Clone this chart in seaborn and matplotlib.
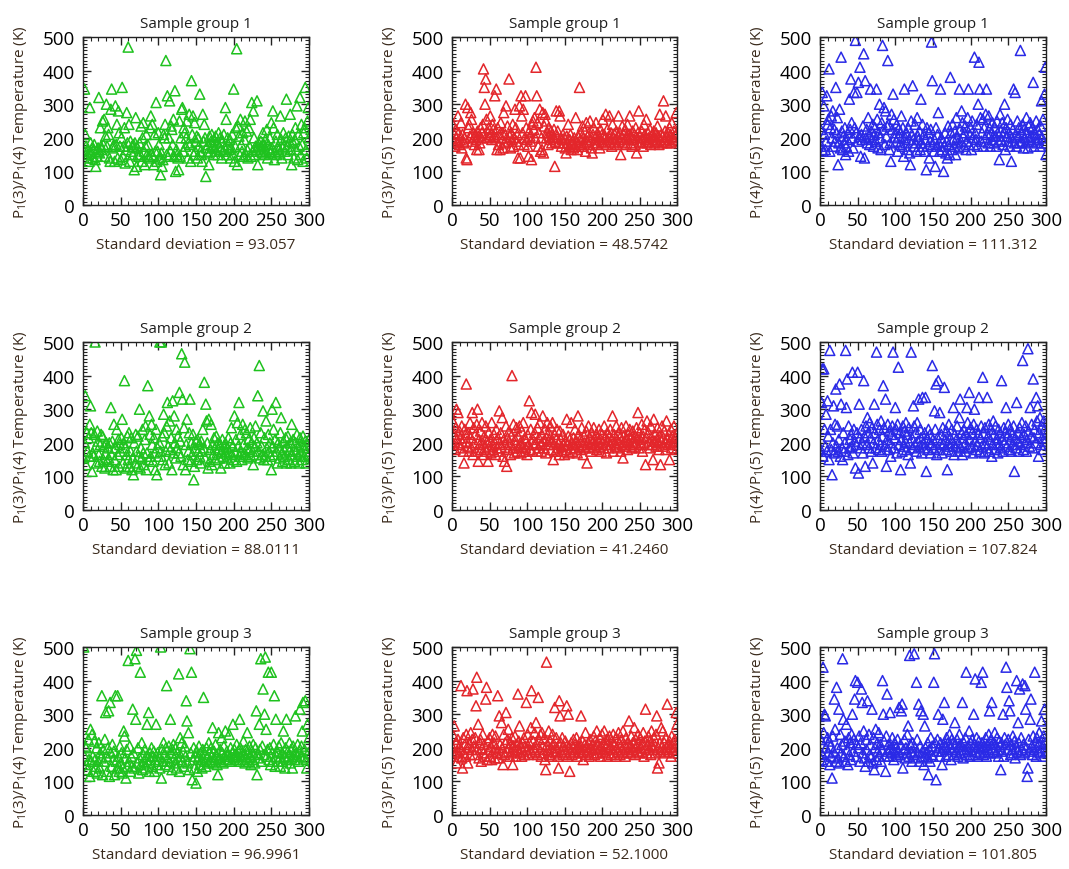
import numpy as np
import pandas as pd
import matplotlib
matplotlib.use("Agg")
import matplotlib.pyplot as plt
import seaborn as sns
from matplotlib.ticker import MultipleLocator

# ---------------- data ----------------
titles = ["Sample group 1", "Sample group 2", "Sample group 3"]
ylabels = [r"P$_1$(3)/P$_1$(4) Temperature (K)",
           r"P$_1$(3)/P$_1$(5) Temperature (K)",
           r"P$_1$(4)/P$_1$(5) Temperature (K)"]
std_texts = [["93.057", "48.5742", "111.312"],
             ["88.0111", "41.2460", "107.824"],
             ["96.9961", "52.1000", "101.805"]]

g1_34 = [160, 345, 210, 175, 140, 150, 165, 130, 290, 185,
         155, 170, 140, 165, 180, 135, 115, 160, 145, 170,
         320, 155, 230, 175, 165, 250, 180, 255, 145, 205,
         300, 175, 230, 210, 140, 130, 285, 345, 170, 175,
         180, 130, 295, 180, 240, 140, 280, 215, 175, 135,
         200, 350, 145, 175, 230, 125, 165, 275, 185, 470,
         240, 130, 190, 160, 175, 150, 180, 105, 185, 260,
         115, 170, 150, 145, 185, 150, 235, 130, 200, 245,
         160, 120, 175, 210, 150, 180, 145, 140, 230, 265,
         150, 240, 145, 120, 210, 160, 305, 130, 160, 215,
         180, 140, 90, 155, 115, 135, 210, 200, 240, 430,
         150, 325, 145, 200, 310, 160, 235, 225, 180, 255,
         145, 340, 100, 165, 150, 140, 105, 250, 145, 200,
         285, 290, 160, 230, 215, 175, 200, 250, 140, 185,
         270, 180, 130, 370, 210, 265, 150, 245, 160, 190,
         205, 140, 200, 175, 330, 160, 150, 130, 270, 190,
         240, 200, 85, 170, 155, 180, 120, 205, 160, 190,
         210, 175, 150, 195, 170, 205, 160, 185, 150, 215,
         175, 200, 165, 140, 190, 160, 210, 170, 290, 255,
         150, 200, 180, 165, 195, 140, 170, 210, 150, 345,
         130, 175, 230, 465, 120, 235, 205, 150, 255, 180,
         160, 215, 145, 195, 250, 150, 220, 165, 140, 230,
         175, 255, 145, 305, 160, 280, 200, 150, 175, 165,
         310, 120, 185, 170, 160, 190, 175, 155, 215, 180,
         150, 195, 160, 225, 140, 180, 165, 200, 155, 245,
         170, 280, 230, 135, 160, 190, 150, 210, 175, 165,
         155, 265, 195, 140, 170, 215, 180, 160, 200, 315,
         175, 150, 205, 190, 270, 165, 120, 210, 185, 140,
         195, 230, 165, 295, 135, 210, 175, 320, 150, 240,
         180, 130, 215, 230, 350, 165, 140, 250, 290, 200]

g1_35 = [240, 190, 210, 175, 225, 200, 185, 265, 215, 180,
         195, 245, 170, 210, 190, 185, 200, 300, 140, 135,
         290, 230, 240, 205, 275, 255, 190, 215, 200, 180,
         210, 195, 165, 220, 205, 165, 185, 230, 200, 215,
         240, 405, 350, 300, 375, 255, 200, 215, 230, 205,
         265, 210, 195, 240, 225, 205, 325, 200, 345, 165,
         230, 180, 210, 165, 245, 200, 215, 170, 275, 185,
         210, 295, 200, 235, 190, 375, 205, 170, 215, 195,
         240, 175, 200, 285, 230, 190, 210, 140, 180, 295,
         140, 325, 265, 215, 285, 180, 200, 325, 230, 195,
         175, 145, 220, 205, 190, 135, 240, 250, 225, 260,
         200, 410, 325, 245, 175, 215, 285, 160, 200, 165,
         275, 155, 235, 270, 250, 200, 215, 180, 230, 205,
         195, 220, 185, 210, 200, 225, 115, 190, 280, 205,
         220, 185, 280, 265, 200, 175, 195, 210, 185, 200,
         170, 155, 205, 185, 240, 175, 195, 210, 165, 180,
         190, 170, 200, 175, 260, 185, 165, 205, 180, 350,
         195, 215, 175, 235, 200, 185, 220, 160, 245, 190,
         205, 180, 215, 250, 195, 170, 155, 210, 230, 185,
         200, 245, 180, 215, 195, 205, 170, 225, 190, 210,
         255, 185, 210, 200, 270, 180, 225, 195, 205, 265,
         190, 215, 175, 240, 200, 185, 210, 195, 220, 180,
         205, 265, 190, 215, 150, 200, 235, 185, 210, 195,
         225, 180, 205, 240, 195, 210, 265, 185, 200, 175,
         220, 195, 210, 180, 230, 155, 200, 215, 280, 190,
         205, 185, 220, 200, 175, 240, 210, 195, 255, 185,
         215, 200, 190, 225, 180, 205, 210, 195, 220, 185,
         200, 215, 190, 235, 205, 180, 270, 195, 210, 185,
         205, 310, 190, 220, 265, 200, 185, 215, 195, 230,
         210, 185, 245, 200, 195, 220, 190, 205, 275, 215]

g1_45 = [225, 175, 335, 160, 295, 210, 165, 190, 325, 240,
         255, 405, 160, 230, 265, 200, 280, 175, 225, 190,
         350, 215, 260, 120, 185, 285, 170, 440, 220, 165,
         205, 185, 230, 150, 175, 195, 215, 160, 315, 225,
         375, 245, 200, 170, 335, 230, 490, 215, 335, 190,
         365, 205, 410, 145, 210, 195, 235, 450, 140, 370,
         200, 225, 185, 260, 205, 180, 345, 220, 195, 240,
         175, 210, 230, 190, 345, 255, 170, 215, 300, 200,
         165, 245, 475, 225, 290, 180, 280, 205, 235, 430,
         240, 165, 185, 130, 270, 225, 330, 255, 200, 215,
         190, 240, 160, 225, 205, 180, 215, 265, 175, 230,
         145, 345, 200, 185, 215, 165, 230, 195, 155, 120,
         250, 210, 355, 195, 175, 240, 185, 160, 260, 205,
         195, 220, 165, 315, 185, 240, 175, 210, 160, 195,
         105, 230, 175, 215, 140, 190, 225, 485, 370, 180,
         160, 195, 115, 230, 175, 210, 275, 185, 160, 345,
         200, 165, 190, 100, 175, 215, 155, 190, 140, 235,
         180, 150, 380, 215, 165, 240, 195, 175, 220, 150,
         260, 200, 185, 170, 345, 225, 190, 280, 245, 205,
         175, 215, 235, 165, 190, 260, 345, 180, 210, 230,
         165, 250, 200, 180, 440, 215, 195, 240, 175, 300,
         425, 345, 260, 190, 215, 255, 175, 230, 200, 270,
         345, 210, 185, 265, 230, 175, 215, 195, 245, 205,
         185, 230, 205, 175, 250, 215, 190, 135, 270, 220,
         195, 245, 180, 215, 300, 165, 230, 205, 255, 190,
         215, 175, 240, 130, 200, 225, 345, 185, 335, 210,
         175, 250, 205, 230, 185, 460, 215, 190, 240, 170,
         225, 200, 185, 260, 215, 170, 235, 195, 245, 205,
         190, 230, 365, 175, 215, 200, 250, 185, 225, 195,
         210, 175, 235, 310, 200, 255, 185, 330, 410, 150]

g2_34 = [155, 200, 340, 135, 230, 175, 215, 160, 255, 310,
         230, 115, 170, 160, 225, 500, 190, 140, 235, 205,
         165, 145, 195, 225, 130, 220, 150, 190, 125, 170,
         200, 145, 185, 155, 200, 130, 305, 165, 205, 120,
         255, 150, 185, 120, 240, 165, 210, 130, 195, 175,
         215, 270, 140, 200, 385, 185, 125, 165, 220, 150,
         230, 130, 175, 215, 120, 155, 105, 200, 140, 225,
         175, 130, 220, 160, 300, 125, 185, 155, 240, 170,
         135, 210, 250, 120, 170, 370, 150, 280, 225, 160,
         255, 195, 145, 215, 170, 120, 240, 105, 185, 160,
         200, 500, 175, 500, 220, 150, 285, 230, 135, 175,
         250, 320, 190, 140, 265, 180, 215, 120, 325, 170,
         280, 200, 155, 240, 185, 220, 170, 350, 205, 160,
         465, 330, 135, 245, 440, 120, 195, 270, 150, 175,
         230, 330, 145, 200, 165, 225, 90, 130, 185, 205,
         150, 210, 175, 195, 160, 140, 205, 175, 240, 185,
         380, 155, 315, 265, 200, 125, 270, 145, 180, 255,
         135, 195, 165, 215, 185, 150, 220, 170, 200, 180,
         155, 195, 125, 175, 210, 160, 190, 140, 200, 170,
         185, 155, 215, 175, 140, 200, 245, 165, 190, 150,
         280, 170, 210, 145, 260, 190, 320, 160, 225, 175,
         150, 255, 195, 170, 240, 165, 230, 185, 155, 210,
         180, 245, 160, 200, 175, 135, 215, 190, 250, 165,
         200, 340, 175, 430, 155, 230, 190, 165, 295, 150,
         215, 160, 265, 185, 150, 225, 175, 200, 160, 120,
         300, 190, 240, 165, 210, 320, 175, 140, 200, 185,
         155, 230, 275, 170, 145, 205, 180, 160, 215, 140,
         190, 220, 150, 175, 200, 140, 255, 165, 210, 180,
         145, 200, 175, 225, 160, 190, 140, 215, 170, 195,
         150, 220, 185, 160, 205, 140, 175, 195, 165, 210]

g2_35 = [200, 260, 225, 180, 245, 300, 210, 290, 195, 235,
         215, 185, 250, 200, 175, 140, 240, 225, 375, 205,
         190, 230, 175, 260, 215, 185, 290, 165, 245, 200,
         225, 175, 255, 300, 145, 210, 195, 235, 180, 260,
         200, 165, 220, 185, 250, 175, 205, 145, 230, 190,
         210, 170, 260, 195, 180, 225, 200, 165, 240, 185,
         215, 175, 295, 200, 230, 185, 275, 160, 210, 145,
         195, 250, 130, 215, 180, 235, 200, 165, 220, 400,
         185, 255, 170, 210, 195, 245, 175, 220, 185, 250,
         200, 170, 235, 190, 260, 175, 215, 185, 205, 165,
         225, 195, 325, 180, 240, 290, 175, 210, 195, 230,
         285, 200, 175, 245, 185, 215, 260, 195, 175, 225,
         280, 205, 185, 240, 170, 215, 260, 195, 230, 210,
         250, 180, 205, 260, 150, 195, 225, 175, 210, 240,
         185, 200, 165, 235, 210, 190, 175, 225, 195, 165,
         205, 180, 270, 195, 220, 170, 210, 185, 260, 200,
         175, 215, 195, 240, 185, 205, 170, 280, 225, 190,
         210, 180, 245, 195, 165, 220, 200, 185, 235, 140,
         205, 250, 190, 215, 175, 230, 200, 185, 245, 210,
         195, 225, 180, 215, 205, 240, 190, 210, 175, 225,
         200, 185, 250, 215, 195, 170, 230, 205, 185, 220,
         240, 195, 210, 280, 175, 225, 200, 190, 250, 210,
         185, 230, 200, 215, 175, 245, 195, 155, 220, 205,
         190, 250, 210, 180, 225, 200, 240, 195, 215, 185,
         235, 205, 190, 220, 200, 245, 215, 290, 185, 230,
         210, 195, 255, 175, 220, 200, 240, 135, 215, 265,
         195, 230, 205, 185, 250, 215, 195, 150, 270, 205,
         225, 190, 210, 245, 200, 180, 220, 135, 205, 250,
         190, 215, 235, 200, 180, 265, 210, 195, 225, 150,
         205, 240, 185, 220, 200, 250, 195, 215, 180, 230]

g2_45 = [180, 320, 420, 160, 420, 240, 190, 285, 175, 325,
         220, 150, 475, 240, 180, 105, 200, 310, 170, 255,
         360, 190, 250, 175, 210, 375, 160, 315, 185, 150,
         230, 175, 200, 475, 305, 390, 165, 250, 185, 210,
         225, 190, 410, 170, 240, 205, 125, 195, 230, 410,
         110, 315, 215, 185, 240, 200, 170, 385, 220, 130,
         250, 195, 275, 230, 185, 260, 215, 175, 245, 140,
         200, 315, 230, 185, 470, 255, 210, 180, 240, 195,
         265, 175, 220, 370, 245, 190, 330, 130, 210, 255,
         180, 235, 200, 160, 225, 250, 470, 185, 215, 305,
         240, 170, 255, 425, 195, 230, 120, 210, 175, 250,
         190, 235, 205, 260, 180, 225, 165, 245, 200, 140,
         470, 215, 185, 310, 250, 195, 230, 175, 260, 205,
         330, 190, 240, 215, 170, 335, 200, 185, 230, 335,
         115, 215, 180, 240, 200, 225, 170, 195, 430, 210,
         185, 295, 240, 375, 165, 215, 385, 180, 290, 200,
         225, 170, 245, 195, 365, 210, 180, 235, 120, 200,
         255, 190, 215, 175, 240, 200, 305, 165, 225, 190,
         210, 250, 175, 200, 275, 330, 185, 230, 165, 215,
         240, 195, 175, 225, 305, 260, 185, 350, 210, 245,
         190, 230, 170, 255, 300, 205, 180, 240, 195, 225,
         335, 175, 215, 250, 190, 395, 230, 170, 245, 200,
         185, 335, 220, 255, 175, 210, 240, 160, 195, 265,
         225, 180, 250, 200, 215, 170, 240, 195, 230, 185,
         385, 210, 175, 245, 200, 230, 305, 190, 220, 255,
         180, 240, 210, 175, 225, 195, 250, 115, 215, 185,
         320, 205, 230, 175, 245, 195, 215, 260, 445, 180,
         225, 200, 250, 175, 210, 480, 235, 190, 305, 220,
         255, 185, 390, 215, 240, 200, 335, 265, 310, 160,
         230, 275, 195, 250, 215, 180, 265, 240, 205, 225]

g3_34 = [500, 175, 205, 200, 150, 135, 225, 165, 115, 255,
         160, 240, 175, 130, 220, 165, 145, 200, 125, 160,
         215, 140, 185, 170, 355, 120, 195, 160, 225, 305,
         175, 130, 200, 310, 115, 335, 185, 145, 210, 165,
         190, 120, 355, 160, 140, 355, 175, 130, 205, 155,
         185, 125, 140, 250, 235, 170, 110, 195, 145, 460,
         160, 205, 130, 175, 145, 315, 185, 140, 465, 285,
         490, 155, 200, 125, 170, 425, 150, 215, 135, 180,
         160, 195, 140, 175, 270, 155, 305, 130, 185, 165,
         200, 145, 175, 190, 130, 165, 270, 150, 185, 160,
         175, 140, 500, 110, 195, 160, 215, 180, 150, 200,
         385, 170, 145, 205, 160, 285, 185, 135, 195, 210,
         170, 155, 200, 140, 185, 165, 420, 130, 230, 175,
         215, 160, 190, 145, 205, 175, 340, 280, 155, 245,
         135, 495, 185, 425, 105, 165, 200, 140, 175, 95,
         190, 130, 170, 205, 150, 185, 165, 140, 195, 350,
         160, 180, 145, 200, 170, 155, 215, 185, 160, 200,
         175, 260, 155, 190, 165, 210, 180, 150, 120, 245,
         170, 195, 160, 230, 185, 155, 205, 175, 250, 165,
         190, 180, 165, 240, 175, 200, 160, 185, 270, 170,
         195, 180, 165, 210, 175, 190, 160, 285, 200, 175,
         185, 165, 220, 180, 155, 195, 170, 245, 185, 160,
         205, 175, 150, 190, 165, 210, 180, 155, 200, 310,
         120, 185, 170, 270, 195, 465, 160, 205, 375, 180,
         300, 470, 255, 175, 195, 425, 165, 200, 150, 425,
         185, 160, 210, 355, 145, 285, 175, 190, 160, 205,
         170, 145, 215, 185, 160, 250, 175, 140, 200, 285,
         165, 190, 175, 215, 155, 195, 170, 140, 205, 180,
         165, 295, 185, 175, 210, 160, 190, 315, 175, 205,
         250, 335, 170, 195, 340, 165, 140, 270, 185, 230]

g3_35 = [200, 235, 265, 185, 215, 155, 190, 225, 175, 205,
         195, 385, 170, 140, 230, 185, 210, 175, 240, 370,
         155, 200, 215, 180, 245, 195, 225, 375, 205, 180,
         230, 325, 410, 195, 270, 170, 215, 225, 160, 200,
         240, 185, 210, 175, 345, 380, 165, 220, 195, 230,
         175, 205, 165, 240, 190, 215, 170, 235, 200, 185,
         355, 170, 295, 210, 185, 275, 200, 150, 240, 180,
         215, 305, 190, 225, 255, 200, 175, 215, 185, 230,
         150, 205, 190, 235, 175, 210, 195, 360, 220, 265,
         185, 200, 175, 215, 190, 230, 180, 205, 335, 195,
         240, 180, 215, 195, 260, 370, 185, 220, 200, 245,
         190, 275, 210, 180, 350, 225, 195, 240, 175, 245,
         205, 185, 230, 165, 135, 455, 210, 195, 250, 180,
         220, 200, 175, 240, 190, 210, 320, 185, 230, 200,
         175, 140, 340, 295, 215, 190, 230, 180, 205, 195,
         220, 185, 325, 175, 300, 205, 130, 190, 215, 180,
         200, 225, 185, 210, 195, 230, 175, 205, 190, 215,
         200, 295, 185, 220, 165, 195, 210, 245, 180, 205,
         190, 215, 175, 225, 200, 185, 210, 195, 235, 180,
         220, 200, 250, 185, 210, 195, 230, 175, 205, 240,
         190, 215, 250, 185, 205, 225, 175, 210, 195, 235,
         200, 180, 220, 195, 240, 185, 210, 175, 230, 200,
         190, 245, 215, 180, 205, 225, 195, 250, 185, 210,
         175, 230, 200, 215, 190, 280, 205, 185, 235, 200,
         215, 195, 260, 180, 225, 205, 190, 240, 215, 185,
         230, 200, 210, 190, 245, 175, 220, 315, 200, 185,
         210, 235, 195, 220, 180, 250, 205, 195, 230, 210,
         185, 240, 295, 140, 200, 155, 215, 190, 260, 205,
         250, 195, 215, 185, 230, 200, 330, 210, 190, 220,
         205, 175, 235, 195, 215, 200, 225, 185, 305, 270]

g3_45 = [225, 165, 180, 440, 245, 300, 295, 200, 160, 230,
         185, 220, 150, 205, 175, 110, 235, 190, 345, 255,
         160, 380, 200, 170, 315, 155, 240, 185, 210, 465,
         285, 175, 220, 160, 270, 195, 150, 230, 180, 215,
         165, 240, 300, 190, 225, 345, 400, 175, 210, 395,
         200, 235, 160, 215, 375, 335, 185, 250, 170, 145,
         225, 195, 340, 160, 240, 180, 210, 175, 315, 155,
         230, 135, 200, 255, 165, 215, 190, 245, 175, 210,
         160, 195, 400, 300, 220, 175, 130, 235, 360, 190,
         210, 175, 305, 200, 185, 230, 195, 165, 215, 185,
         200, 175, 225, 190, 320, 180, 210, 310, 330, 140,
         195, 225, 170, 200, 185, 240, 265, 175, 475, 210,
         190, 160, 215, 180, 480, 200, 170, 395, 225, 185,
         330, 160, 205, 310, 175, 190, 300, 150, 265, 200,
         185, 170, 215, 120, 195, 160, 230, 180, 205, 175,
         395, 480, 215, 105, 190, 225, 300, 200, 175, 215,
         190, 150, 285, 210, 335, 205, 175, 230, 195, 215,
         180, 240, 200, 165, 225, 195, 215, 180, 275, 210,
         190, 225, 175, 205, 240, 185, 210, 195, 335, 170,
         215, 195, 230, 425, 180, 205, 190, 250, 175, 215,
         195, 225, 180, 300, 210, 405, 190, 230, 175, 205,
         220, 185, 200, 395, 215, 425, 180, 205, 190, 230,
         175, 210, 195, 240, 310, 185, 225, 335, 200, 215,
         190, 245, 210, 185, 230, 195, 175, 220, 205, 135,
         215, 190, 300, 175, 230, 210, 440, 380, 195, 225,
         340, 310, 180, 210, 195, 235, 185, 220, 170, 205,
         400, 190, 275, 215, 375, 180, 230, 195, 390, 210,
         185, 385, 315, 200, 115, 140, 225, 190, 285, 345,
         205, 180, 235, 195, 425, 215, 175, 230, 190, 210,
         245, 185, 220, 280, 200, 175, 235, 315, 215, 190]

series = [[g1_34, g1_35, g1_45],
          [g2_34, g2_35, g2_45],
          [g3_34, g3_35, g3_45]]
colors = ["#1fc21f", "#e3262b", "#2a2ae6"]

# ---------------- style ----------------
sns.set_style("ticks")
plt.rcParams["font.family"] = ["Open Sans", "DejaVu Sans"]
plt.rcParams["mathtext.fontset"] = "custom"
plt.rcParams["mathtext.rm"] = "Open Sans"
plt.rcParams["mathtext.it"] = "Open Sans:italic"

label_color = "#3a2a1c"

fig = plt.figure(figsize=(10.69, 8.70), dpi=100)
lefts = [83, 452, 820]
rights = [309, 677, 1046]
tops = [38, 343, 648]
bottoms = [206, 511, 816]
W, H = 1069.0, 870.0

for r in range(3):
    for c in range(3):
        ax = fig.add_axes([lefts[c] / W, 1 - bottoms[r] / H,
                           (rights[c] - lefts[c]) / W,
                           (bottoms[r] - tops[r]) / H])
        y = series[r][c]
        df = pd.DataFrame({"x": np.arange(1, len(y) + 1), "y": y})
        sns.scatterplot(data=df, x="x", y="y", ax=ax, marker="^",
                        s=52, facecolors="none", edgecolor=colors[c],
                        linewidth=1.1, legend=False)
        ax.set_xlim(0, 300)
        ax.set_ylim(0, 500)
        ax.xaxis.set_major_locator(MultipleLocator(50))
        ax.xaxis.set_minor_locator(MultipleLocator(10))
        ax.yaxis.set_major_locator(MultipleLocator(100))
        ax.yaxis.set_minor_locator(MultipleLocator(10))
        ax.tick_params(which="both", direction="in", top=True, right=True,
                       colors="#222222", labelcolor="black")
        ax.tick_params(which="major", length=6, width=1.0, labelsize=13.5)
        ax.tick_params(axis="y", which="major", pad=6)
        ax.tick_params(axis="x", which="major", pad=4)
        ax.tick_params(which="minor", length=3, width=0.8)
        for sp in ax.spines.values():
            sp.set_linewidth(1.0)
            sp.set_color("#222222")
        ax.set_title(titles[r], fontsize=11, color="#1e1e1e", pad=7)
        ax.set_ylabel(ylabels[c], fontsize=11, color=label_color, labelpad=9)
        ax.set_xlabel("Standard deviation = " + std_texts[r][c],
                      fontsize=11, color=label_color, labelpad=6)

fig.savefig("out.png", dpi=100)
